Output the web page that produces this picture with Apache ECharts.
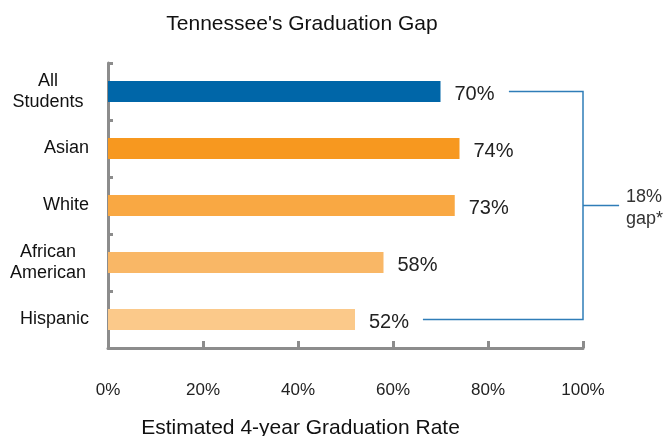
<!DOCTYPE html>
<html><head><meta charset="utf-8">
<script src="https://cdn.jsdelivr.net/npm/echarts@6/dist/echarts.min.js"></script>
<style>html,body{margin:0;padding:0;background:#fff}#c{width:665px;height:436px}</style>
</head><body><div id="c"></div>
<script>
const categories = ['All\nStudents', 'Asian', 'White', 'African\nAmerican', 'Hispanic'];
const values = [70, 74, 73, 58, 52];
const barColors = ['#0066A8', '#F7981F', '#F9A843', '#F9B766', '#FBC98A'];
const xTicks = [0, 20, 40, 60, 80, 100];
const gapLabel = '18%\ngap*';
// bracket path in data coordinates [value %, category index]
const bracketPath = [[84.4, 0.03], [100, 0.03], [100, 4.12], [66.3, 4.12]];
const bracketTick = [[100, 2], [107.6, 2]];
const gapAnchor = [100, 2];

const chart = echarts.init(document.getElementById('c'));
const font = 'Liberation Sans, Arial, sans-serif';
chart.setOption({
  animation: false,
  title: {
    text: "Tennessee's Graduation Gap",
    left: 297, top: 9, textAlign: 'center',
    textStyle: {fontFamily: font, fontSize: 21, fontWeight: 'normal', color: '#111'}
  },
  grid: {left: 108, right: 82, top: 63, bottom: 88, containLabel: false, outerBoundsMode: 'none'},
  xAxis: {
    type: 'value', min: 0, max: 100, interval: 20,
    axisLine: {show: true, lineStyle: {color: '#8c8c8c', width: 3}},
    axisTick: {show: true, inside: true, length: 7, lineStyle: {color: '#8c8c8c', width: 3}},
    splitLine: {show: false},
    axisLabel: {margin: 34, fontFamily: font, fontSize: 17, color: '#222', formatter: v => v + '%'},
    name: 'Estimated 4-year Graduation Rate',
    nameLocation: 'middle', nameGap: 70,
    nameTextStyle: {fontFamily: font, fontSize: 21, color: '#111', padding: [0, 90, 0, 0]}
  },
  yAxis: {
    type: 'category', data: categories, inverse: true,
    axisLine: {show: true, lineStyle: {color: '#8c8c8c', width: 3}},
    axisTick: {show: true, inside: true, length: 5, lineStyle: {color: '#8c8c8c', width: 3}},
    axisLabel: {
      margin: 19, fontFamily: font, fontSize: 18, color: '#111', align: 'right',
      formatter: v => {
        const parts = v.split('\n');
        if (parts.length === 1) return v;
        return parts.map(p => '{c|' + p + '}').join('\n');
      },
      rich: {c: {width: 82, align: 'center', fontFamily: font, fontSize: 18, color: '#111', lineHeight: 21}}
    }
  },
  series: [
    {
      type: 'bar', barWidth: 21,
      data: values.map((v, i) => ({value: v, itemStyle: {color: barColors[i]}})),
      label: {show: true, position: 'right', distance: 14, offset: [0, 3], fontFamily: font, fontSize: 20, color: '#222', formatter: p => p.value + '%'},
      markPoint: {
        silent: true, symbol: 'circle', symbolSize: 0,
        itemStyle: {color: '#222'},
        label: {show: true, position: 'right', distance: 43, offset: [0, 3], formatter: gapLabel,
          fontFamily: font, fontSize: 18, color: '#333', lineHeight: 22, align: 'left'},
        data: [{coord: gapAnchor}]
      }
    },
    {
      type: 'lines', coordinateSystem: 'cartesian2d', polyline: true, silent: true, clip: false,
      lineStyle: {color: '#2F7DB8', width: 1.5, opacity: 1},
      data: [{coords: bracketPath}, {coords: bracketTick}]
    }
  ]
});
</script></body></html>
